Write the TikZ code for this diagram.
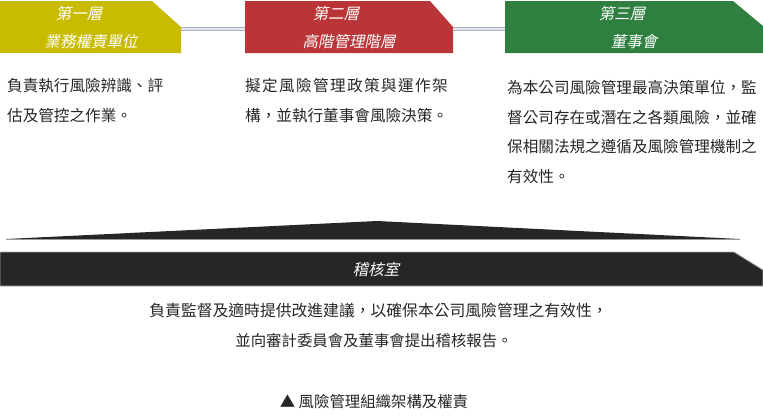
\documentclass[tikz,border=0pt]{standalone}
\usepackage{fontspec}
\setmainfont{Noto Sans CJK TC}
\newfontfamily\slantfont[FakeSlant=0.2]{Noto Sans CJK TC}
\usetikzlibrary{positioning}

\definecolor{tieryellow}{RGB}{201,188,0}
\definecolor{tierred}{RGB}{185,53,56}
\definecolor{tiergreen}{RGB}{46,127,64}
\definecolor{auditdark}{RGB}{38,38,38}
\definecolor{linkgray}{RGB}{170,175,196}

\begin{document}
\begin{tikzpicture}[x=1pt, y=-1pt,
    tiertext/.style={text=white, font=\slantfont\fontsize{15.5}{18}\selectfont, inner sep=0pt},
    bodytext/.style={text=black!85, font=\fontsize{15.6}{29.6}\selectfont, align=left, inner sep=0pt, anchor=north west},
    linetext/.style={text=black!85, font=\fontsize{15.4}{18}\selectfont, inner sep=0pt},
    link/.style={draw=linkgray, double=linkgray!30, double distance=1.4pt, line width=1pt}]
    \useasboundingbox (0, 0) rectangle (763, 416);

    % three tiers
    \fill[tieryellow] (0, 1) -- (152, 1) -- (181, 27) -- (181, 53) -- (0, 53) -- cycle;
    \fill[tierred] (245, 1) -- (430, 1) -- (453, 27) -- (453, 53) -- (245, 53) -- cycle;
    \fill[tiergreen] (505, 1) -- (733, 1) -- (763, 26) -- (763, 53) -- (505, 53) -- cycle;

    \coordinate (T1e) at (181, 29);
    \coordinate (T2w) at (245, 29);
    \coordinate (T2e) at (453, 29);
    \coordinate (T3w) at (505, 29);
    \draw[link] (T1e) -- (T2w);
    \draw[link] (T2e) -- (T3w);

    \node[tiertext] (T1a) at (79, 14) {第一層};
    \node[tiertext] (T1b) at (91, 42) {業務權責單位};
    \node[tiertext] (T2a) at (336, 14) {第二層};
    \node[tiertext] (T2b) at (349, 42) {高階管理階層};
    \node[tiertext] (T3a) at (622, 14) {第三層};
    \node[tiertext] (T3b) at (634, 42) {董事會};

    \node[bodytext] (D1) at (7, 78) {負責執行風險辨識、評\\估及管控之作業。};
    \node[bodytext] (D2) at (245, 78) {{\addfontfeature{LetterSpace=9}擬定風險管理政策與運作架}\\構，並執行董事會風險決策。};
    \node[bodytext] (D3) at (507, 80) {為本公司風險管理最高決策單位，監\\督公司存在或潛在之各類風險，並確\\保相關法規之遵循及風險管理機制之\\有效性。};

    % audit office
    \fill[auditdark] (6, 239) -- (377, 221) -- (740, 239) -- cycle;
    \draw[gray!80, line width=0.8pt] (6, 239.4) -- (740, 239.4);
    \filldraw[fill=auditdark, draw=gray!70, line width=0.8pt] (0, 252) -- (734, 252) -- (763, 270) -- (763, 286) -- (0, 286) -- cycle;
    \node[tiertext] (A) at (376, 270) {稽核室};

    \node[linetext, font=\fontsize{15.8}{18}\selectfont] (A1) at (378.5, 310) {負責監督及適時提供改進建議，以確保本公司風險管理之有效性，};
    \node[linetext] (A2) at (374, 341) {並向審計委員會及董事會提出稽核報告。};
    \node[linetext] (C) at (374, 402) {▲ 風險管理組織架構及權責};
\end{tikzpicture}
\end{document}
